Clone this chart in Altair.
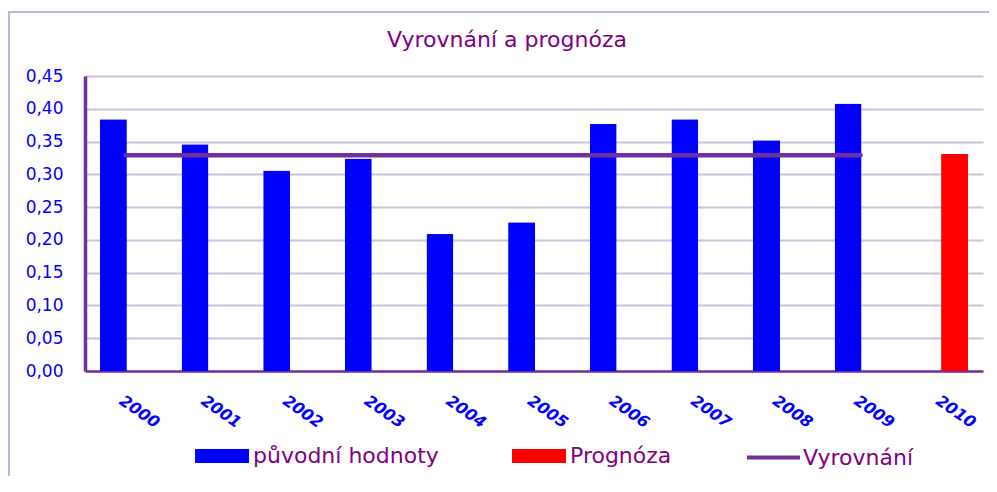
import altair as alt
import pandas as pd

years = ["2000", "2001", "2002", "2003", "2004", "2005", "2006", "2007", "2008", "2009", "2010"]
original_years = ["2000", "2001", "2002", "2003", "2004", "2005", "2006", "2007", "2008", "2009"]
original_values = [0.384, 0.346, 0.306, 0.324, 0.209, 0.227, 0.377, 0.384, 0.352, 0.408]
forecast_years = ["2010"]
forecast_values = [0.331]
fitted_years = ["2000", "2001", "2002", "2003", "2004", "2005", "2006", "2007", "2008", "2009"]
fitted_values = [0.329, 0.329, 0.329, 0.329, 0.329, 0.329, 0.329, 0.329, 0.329, 0.329]
y_ticks = [0, 0.05, 0.1, 0.15, 0.2, 0.25, 0.3, 0.35, 0.4, 0.45]

TITLE = "Vyrovnání a prognóza"
S_ORIG = "původní hodnoty"
S_FORE = "Prognóza"
S_FIT = "Vyrovnání"

bars = pd.DataFrame(
    {"year": original_years + forecast_years,
     "value": original_values + forecast_values,
     "series": [S_ORIG] * len(original_years) + [S_FORE] * len(forecast_years)}
)
line = pd.DataFrame({"year": fitted_years, "value": fitted_values, "series": [S_FIT] * len(fitted_years)})
single = pd.DataFrame({"title": [TITLE]})

FONT = "DejaVu Sans"
PURPLE = "#7030A0"
TEXT_PURPLE = "#800080"
BLUE = "#0000FF"
FRAME = "#BFB3D3"

x_scale = alt.Scale(domain=years, paddingInner=0.392, paddingOuter=0.196)
y_scale = alt.Scale(domain=[0, 0.45], nice=False)

x_axis = alt.Axis(
    title=None, ticks=False, labelAngle=35, labelAlign="left", labelBaseline="top",
    labelPadding=21, labelFont=FONT, labelFontSize=16, labelFontWeight="bold",
    labelFontStyle="italic", labelColor=BLUE, domainColor=PURPLE, domainWidth=2.5,
    grid=False, labelOverlap=False,
)
y_axis = alt.Axis(
    title=None, ticks=False, values=y_ticks, labelOverlap=False,
    labelExpr="replace(format(datum.value, '.2f'), '.', ',')",
    labelPadding=22, labelFont=FONT, labelFontSize=17, labelColor=BLUE,
    domainColor=PURPLE, domainWidth=3.5, gridColor="#CBC2DD", gridWidth=2,
)

bar_layer = alt.Chart(bars).mark_bar(width=27, cornerRadius=1).encode(
    x=alt.X("year:N", scale=x_scale, axis=x_axis, sort=years),
    xOffset=alt.XOffset("series:N", scale=alt.Scale(domain=[S_ORIG, S_FORE], paddingInner=0, paddingOuter=0)),
    y=alt.Y("value:Q", scale=y_scale, axis=y_axis),
    fill=alt.Fill(
        "series:N",
        scale=alt.Scale(domain=[S_ORIG, S_FORE], range=[BLUE, "#FF0000"]),
        legend=alt.Legend(
            title=None, orient="none", direction="horizontal", legendX=110, legendY=353,
            symbolType="M-1,-0.26H1V0.26H-1Z", symbolSize=2916, symbolStrokeWidth=0,
            labelFont=FONT, labelFontSize=22, labelColor=TEXT_PURPLE, labelOffset=4,
            columnPadding=73, labelLimit=400,
        ),
    ),
)

line_layer = alt.Chart(line).mark_line(strokeWidth=4.5, strokeCap="round").encode(
    x=alt.X("year:N", scale=x_scale, axis=x_axis, sort=years),
    y=alt.Y("value:Q", scale=y_scale, axis=y_axis),
    stroke=alt.Stroke(
        "series:N",
        scale=alt.Scale(domain=[S_FIT], range=[PURPLE]),
        legend=alt.Legend(
            title=None, orient="none", direction="horizontal", legendX=660, legendY=353,
            symbolType="stroke", symbolSize=2809, symbolStrokeWidth=4,
            labelFont=FONT, labelFontSize=22, labelColor=TEXT_PURPLE, labelOffset=1,
            labelLimit=400,
        ),
    ),
)

title_layer = alt.Chart(single).mark_text(
    font=FONT, fontSize=22, color=TEXT_PURPLE, align="center", baseline="alphabetic"
).encode(text="title:N", x=alt.value(422), y=alt.value(-29))

frame_top = alt.Chart(single).mark_rule(color=FRAME, strokeWidth=2).encode(
    x=alt.value(-77), x2=alt.value(904), y=alt.value(-64)
)
frame_left = alt.Chart(single).mark_rule(color=FRAME, strokeWidth=2).encode(
    x=alt.value(-76), y=alt.value(-65), y2=alt.value(420)
)

chart = alt.layer(frame_top, frame_left, title_layer, bar_layer, line_layer).properties(
    width=898,
    height=295,
    autosize=alt.AutoSizeParams(type="none"),
    padding={"left": 77, "top": 68, "right": 6, "bottom": 105},
).configure_view(stroke=None)

chart.save("out.html", embed_options={"renderer": "svg", "actions": False})
